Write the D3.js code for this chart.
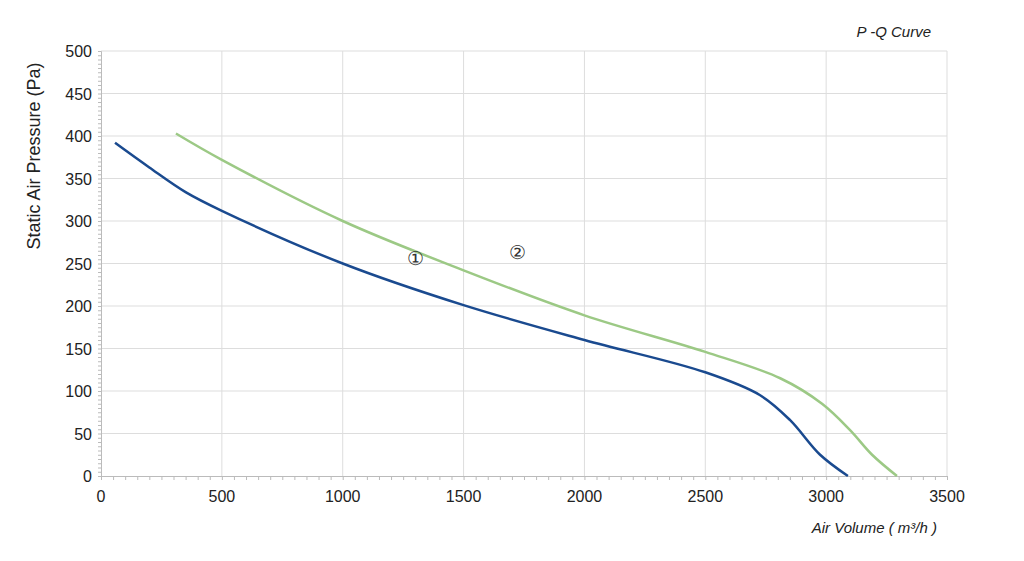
<!DOCTYPE html><html><head><meta charset="utf-8"><script src="https://cdn.jsdelivr.net/npm/d3@7"></script>
<style>body{margin:0;background:#fff}text{font-family:"Liberation Sans",Arial,sans-serif}</style></head><body><svg id="c" width="1024" height="561"></svg>
<script>
const xTicks=[0,500,1000,1500,2000,2500,3000,3500];
const yTicks=[0,50,100,150,200,250,300,350,400,450,500];
const curve1Q=[58,200,350,500,1000,1500,2000,2500,2727,2850,2975,3090];
const curve1P=[392,363,334,312,250,201,160,122,95,66,25,0];
const curve2Q=[310,500,1000,1500,2000,2500,2810,2983,3099,3190,3293];
const curve2P=[403,372,300,242,189,146,115,85,54,25,0];
const svg=d3.select("#c");
const x=d3.scaleLinear().domain([0,3500]).range([101,947]);
const y=d3.scaleLinear().domain([0,500]).range([476,51]);
svg.append("g").selectAll("line").data(xTicks.slice(1)).join("line").attr("x1",d=>x(d)).attr("x2",d=>x(d)).attr("y1",51).attr("y2",476).attr("stroke","#ddd");
svg.append("g").selectAll("line").data(yTicks.slice(1)).join("line").attr("y1",d=>y(d)).attr("y2",d=>y(d)).attr("x1",101).attr("x2",947).attr("stroke","#ddd");
const xa=svg.append("g").attr("transform","translate(0,476)").call(d3.axisBottom(x).tickValues(d3.range(0,3501,50)).tickSize(4).tickFormat(""));
const ya=svg.append("g").attr("transform","translate(101,0)").call(d3.axisLeft(y).tickValues(d3.range(0,501,5)).tickSize(3).tickFormat(""));
[xa,ya].forEach(a=>{a.selectAll("line,path").attr("stroke","#bbb");});
svg.append("g").selectAll("text").data(xTicks).join("text").attr("x",d=>x(d)).attr("y",502).attr("text-anchor","middle").attr("font-size",16).attr("fill","#222").text(d=>d);
svg.append("g").selectAll("text").data(yTicks).join("text").attr("x",92).attr("y",d=>y(d)+6).attr("text-anchor","end").attr("font-size",16).attr("fill","#222").text(d=>d);
const line=d3.line().x(d=>x(d[0])).y(d=>y(d[1])).curve(d3.curveCatmullRom.alpha(0.5));
svg.append("path").attr("d",line(curve2Q.map((q,i)=>[q,curve2P[i]]))).attr("fill","none").attr("stroke","#9cc985").attr("stroke-width",2.5);
svg.append("path").attr("d",line(curve1Q.map((q,i)=>[q,curve1P[i]]))).attr("fill","none").attr("stroke","#1a4a8f").attr("stroke-width",2.5);
svg.append("text").attr("x",x(1300)).attr("y",y(255)+6).attr("text-anchor","middle").attr("font-size",19).attr("fill","#333").text("①");
svg.append("text").attr("x",x(1725)).attr("y",y(262)+6).attr("text-anchor","middle").attr("font-size",19).attr("fill","#333").text("②");
svg.append("text").attr("x",931).attr("y",37).attr("text-anchor","end").attr("font-size",15).attr("font-style","italic").attr("fill","#222").text("P -Q Curve");
svg.append("text").attr("x",937).attr("y",533).attr("text-anchor","end").attr("font-size",15).attr("font-style","italic").attr("fill","#222").text("Air Volume ( m³/h )");
svg.append("text").attr("transform","translate(40,156) rotate(-90)").attr("text-anchor","middle").attr("font-size",18).attr("fill","#222").text("Static Air Pressure  (Pa)");
</script></body></html>
